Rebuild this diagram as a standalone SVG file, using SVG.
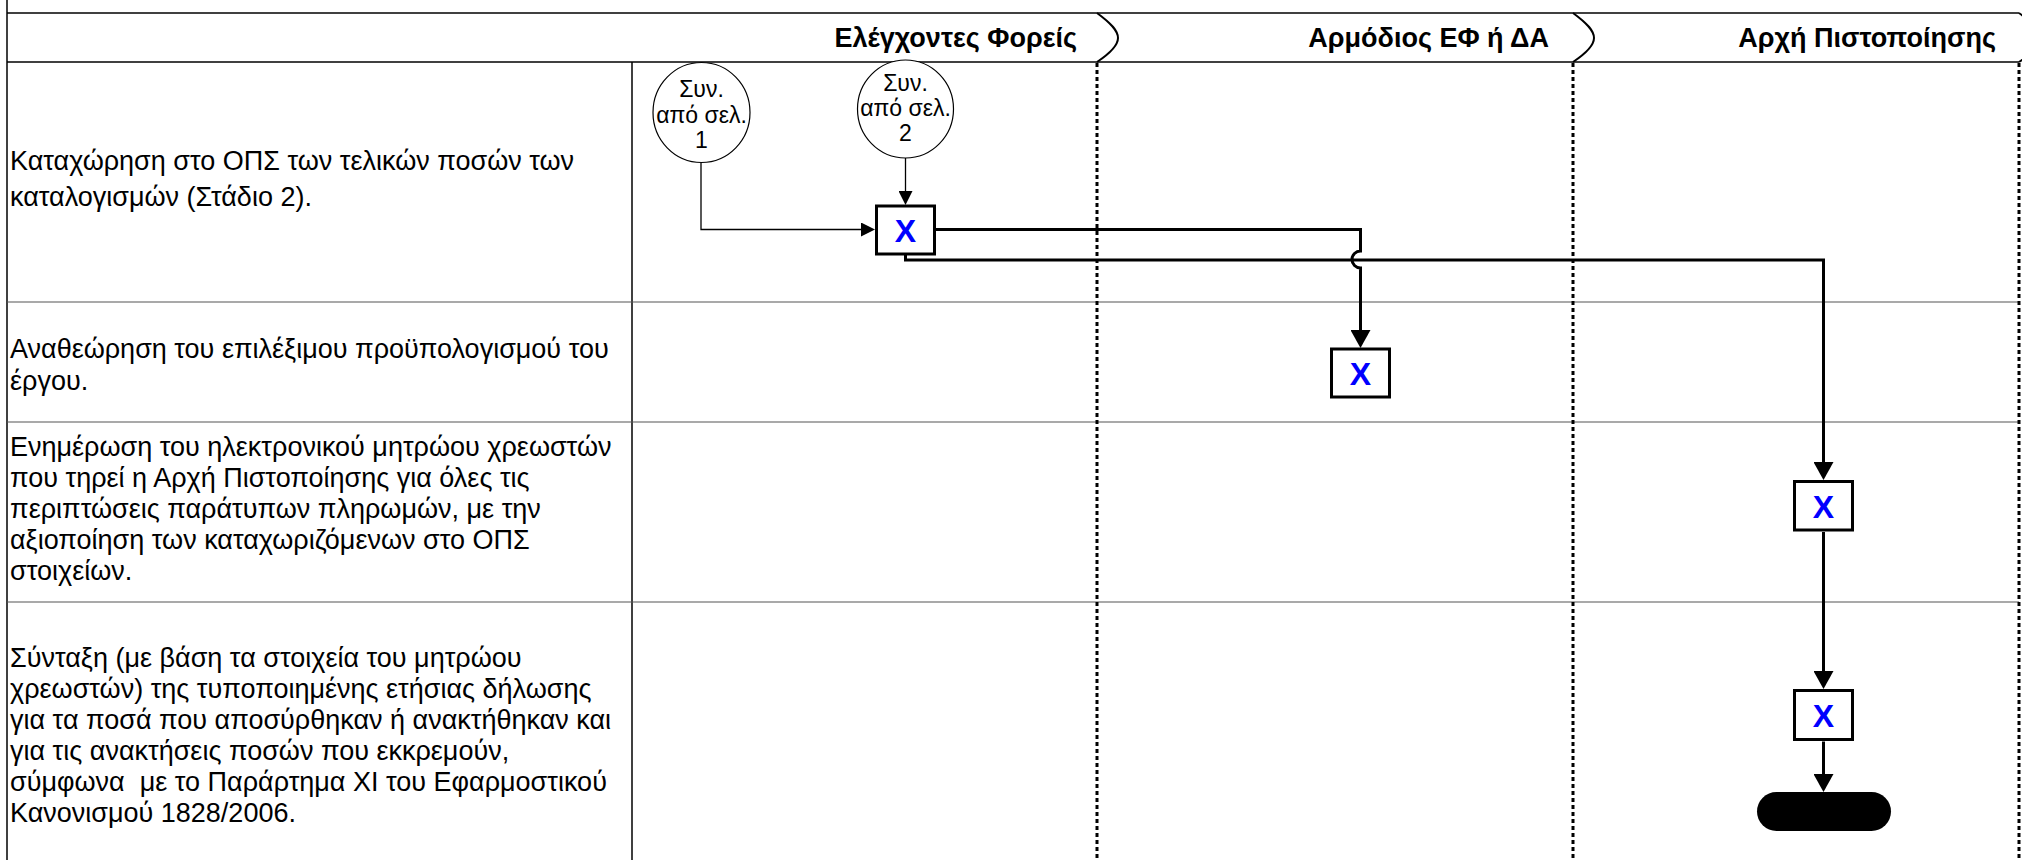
<svg xmlns="http://www.w3.org/2000/svg" width="2022" height="860" viewBox="0 0 2022 860">
  <style>
    .bg { fill: #ffffff; }
    .frame { stroke: #000; stroke-width: 1.5; fill: none; }
    .rowline { stroke: #555; stroke-width: 1.2; fill: none; }
    .lane { stroke: #000; stroke-width: 3; stroke-dasharray: 4 3; fill: none; }
    .chev { stroke: #000; stroke-width: 2; fill: none; }
    .hdr { font-family: "Liberation Sans", Arial, sans-serif; font-weight: bold; font-size: 27px; fill: #000; text-anchor: end; }
    .desc { font-family: "Liberation Sans", Arial, sans-serif; font-size: 27px; fill: #000; white-space: pre; }
    .conn-text { font-family: "Liberation Sans", Arial, sans-serif; font-size: 23px; fill: #000; text-anchor: middle; }
    .task { fill: #fff; stroke: #000; stroke-width: 3; }
    .task-x { font-family: "Liberation Sans", Arial, sans-serif; font-weight: bold; font-size: 32px; fill: #0000ff; text-anchor: middle; }
    .conn { fill: #fff; stroke: #000; stroke-width: 1.2; }
    .thin { stroke: #000; stroke-width: 1.3; fill: none; }
    .thick { stroke: #000; stroke-width: 3; fill: none; }
  </style>
  <defs>
    <marker id="arrowThin" markerUnits="userSpaceOnUse" markerWidth="14" markerHeight="14" refX="0" refY="7" orient="auto">
      <path d="M0,0 L14,7 L0,14 Z" fill="#000"/>
    </marker>
    <marker id="arrowThick" markerUnits="userSpaceOnUse" markerWidth="18" markerHeight="20" refX="0" refY="10" orient="auto">
      <path d="M0,0 L18,10 L0,20 Z" fill="#000"/>
    </marker>
  </defs>

  <rect class="bg" x="0" y="0" width="2022" height="860"/>

  <!-- swimlane frame -->
  <g id="frame">
    <line class="frame" x1="7" y1="0" x2="7" y2="860" stroke-width="2"/>
    <line class="frame" x1="7" y1="13" x2="2019" y2="13"/>
    <line class="frame" x1="7" y1="62" x2="2019" y2="62"/>
    <line class="frame" x1="632" y1="62" x2="632" y2="860"/>
    <line class="rowline" x1="7" y1="302" x2="2019" y2="302"/>
    <line class="rowline" x1="7" y1="422" x2="2019" y2="422"/>
    <line class="rowline" x1="7" y1="602" x2="2019" y2="602"/>
    <line class="lane" x1="1097" y1="63" x2="1097" y2="860"/>
    <line class="lane" x1="1573" y1="63" x2="1573" y2="860"/>
    <line class="lane" x1="2019" y1="63" x2="2019" y2="860"/>
    <path class="chev" d="M1097,13 C1112,24 1118,31 1118,38 C1118,45 1112,52 1097,62"/>
    <path class="chev" d="M1573,13 C1588,24 1594,31 1594,38 C1594,45 1588,52 1573,62"/>
    <path class="chev" d="M2019,13 C2034,24 2040,31 2040,38 C2040,45 2034,52 2019,62"/>
  </g>

  <!-- lane headers -->
  <g id="lane-headers">
    <text class="hdr" x="1077" y="47">Ελέγχοντες Φορείς</text>
    <text class="hdr" x="1549" y="47">Αρμόδιος ΕΦ ή ΔΑ</text>
    <text class="hdr" x="1996" y="47">Αρχή Πιστοποίησης</text>
  </g>

  <!-- step descriptions -->
  <g id="step-1-text">
    <text class="desc" x="10" y="170">Καταχώρηση στο ΟΠΣ των τελικών ποσών των</text>
    <text class="desc" x="10" y="206">καταλογισμών (Στάδιο 2).</text>
  </g>
  <g id="step-2-text">
    <text class="desc" x="10" y="358">Αναθεώρηση του επιλέξιμου προϋπολογισμού του</text>
    <text class="desc" x="10" y="390">έργου.</text>
  </g>
  <g id="step-3-text">
    <text class="desc" x="10" y="456">Ενημέρωση του ηλεκτρονικού μητρώου χρεωστών</text>
    <text class="desc" x="10" y="487">που τηρεί η Αρχή Πιστοποίησης για όλες τις</text>
    <text class="desc" x="10" y="518">περιπτώσεις παράτυπων πληρωμών, με την</text>
    <text class="desc" x="10" y="549">αξιοποίηση των καταχωριζόμενων στο ΟΠΣ</text>
    <text class="desc" x="10" y="580">στοιχείων.</text>
  </g>
  <g id="step-4-text">
    <text class="desc" x="10" y="667">Σύνταξη (με βάση τα στοιχεία του μητρώου</text>
    <text class="desc" x="10" y="698">χρεωστών) της τυποποιημένης ετήσιας δήλωσης</text>
    <text class="desc" x="10" y="729">για τα ποσά που αποσύρθηκαν ή ανακτήθηκαν και</text>
    <text class="desc" x="10" y="760">για τις ανακτήσεις ποσών που εκκρεμούν,</text>
    <text class="desc" x="10" y="791">σύμφωνα  με το Παράρτημα XI του Εφαρμοστικού</text>
    <text class="desc" x="10" y="822">Κανονισμού 1828/2006.</text>
  </g>

  <!-- connectors -->
  <g id="connectors">
    <path class="thin" d="M701,163 V229.5 H861" marker-end="url(#arrowThin)"/>
    <path class="thin" d="M905.5,158 V191" marker-end="url(#arrowThin)"/>
    <path class="thick" d="M936,229.5 H1360.5 V251 A8.5,8.5 0 0 0 1360.5,268 V330" marker-end="url(#arrowThick)"/>
    <path class="thick" d="M905.5,255 V260 H1823.5 V462" marker-end="url(#arrowThick)"/>
    <path class="thick" d="M1823.5,532 V671" marker-end="url(#arrowThick)"/>
    <path class="thick" d="M1823.5,741.5 V774" marker-end="url(#arrowThick)"/>
  </g>

  <!-- off-page connectors -->
  <g id="from-page-1">
    <ellipse class="conn" cx="701.5" cy="112.5" rx="48.5" ry="50"/>
    <text class="conn-text" x="701.5" y="97">Συν.</text>
    <text class="conn-text" x="701.5" y="123">από σελ.</text>
    <text class="conn-text" x="701.5" y="148">1</text>
  </g>
  <g id="from-page-2">
    <ellipse class="conn" cx="905.5" cy="109" rx="48" ry="49"/>
    <text class="conn-text" x="905.5" y="91">Συν.</text>
    <text class="conn-text" x="905.5" y="116">από σελ.</text>
    <text class="conn-text" x="905.5" y="141">2</text>
  </g>

  <!-- tasks -->
  <g id="task-record-amounts">
    <rect class="task" x="876.5" y="206" width="58" height="48"/>
    <text class="task-x" x="905.5" y="241.5">X</text>
  </g>
  <g id="task-revise-budget">
    <rect class="task" x="1331.5" y="349" width="58" height="48"/>
    <text class="task-x" x="1360.5" y="384.5">X</text>
  </g>
  <g id="task-update-register">
    <rect class="task" x="1794.5" y="481.5" width="58" height="48.5"/>
    <text class="task-x" x="1823.5" y="517.5">X</text>
  </g>
  <g id="task-annual-statement">
    <rect class="task" x="1794.5" y="690.5" width="58" height="49"/>
    <text class="task-x" x="1823.5" y="726.5">X</text>
  </g>
  <g id="end">
    <rect x="1757" y="792" width="134" height="39" rx="19.5" ry="19.5" fill="#000"/>
  </g>
</svg>
